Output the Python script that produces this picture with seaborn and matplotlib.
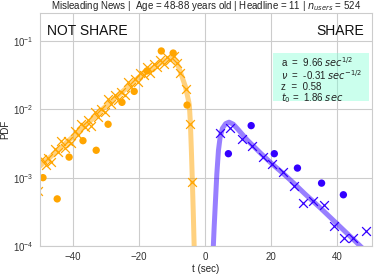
import numpy as np
import matplotlib
matplotlib.use("Agg")
import matplotlib.pyplot as plt
from matplotlib.patches import Rectangle
import seaborn as sns

# dados (log10 do PDF)
ns_curve_t = [-50, -45, -40, -35, -30, -25, -20, -16, -13, -11, -10, -9, -8, -7, -6, -5.5, -5, -4.8, -4.5, -4.2, -3.9, -3.6, -3.3]
ns_curve_log = [-2.83, -2.62, -2.40, -2.18, -1.95, -1.74, -1.53, -1.40, -1.31, -1.26, -1.25, -1.29, -1.39, -1.53, -1.67, -1.78, -1.89, -1.95, -2.2, -2.6, -3.05, -3.55, -4.1]

ns_cross_t = [-50.6, -49.4, -48.3, -47.5, -46.6, -45.4, -44.5, -43.6, -42.4, -41.5, -40.6, -39.4, -38.5, -37.6, -36.4,
              -35.5, -34.6, -33.4, -32.5, -31.6, -30.4, -29.5, -28.6, -27.4, -26.5, -25.6, -24.4,
              -23.5, -22.6, -21.4, -20.5, -19.6, -18.4, -17.5, -16.6, -15.4, -14.5, -13.6, -12.4,
              -11.5, -10.6, -9.4, -8.5, -7.6, -5.8, -4.5, -3.9]
ns_cross_log = [-3.20, -2.73, -2.81, -2.71, -2.77, -2.58, -2.63, -2.47, -2.57, -2.46, -2.50, -2.32, -2.37, -2.21, -2.26,
                -2.16, -2.25, -2.04, -2.11, -1.99, -2.04, -1.85, -1.92, -1.79, -1.86, -1.75, -1.80,
                -1.61, -1.68, -1.56, -1.61, -1.47, -1.50, -1.39, -1.47, -1.34, -1.39, -1.28, -1.34,
                -1.24, -1.28, -1.23, -1.32, -1.47, -1.70, -2.21, -3.07]

ns_dot_t = [-49.1, -44.8, -41.2, -37.0, -33.0, -29.4, -25.2, -21.5, -17.6, -13.3, -9.7, -5.5]
ns_dot_log = [-3.00, -3.31, -2.70, -2.46, -2.60, -2.22, -1.90, -1.74, -1.44, -1.15, -1.18, -1.94]

sh_curve_t = [2.4, 2.7, 3.0, 3.5, 4.0, 4.5, 5.2, 6.2, 7.2, 8.5, 10, 12.7, 16.7, 20, 23.6, 27, 30, 35, 40, 45, 48]
sh_curve_log = [-4.05, -3.72, -3.43, -2.95, -2.60, -2.41, -2.28, -2.21, -2.19, -2.22, -2.30, -2.45, -2.64, -2.79, -2.94, -3.09, -3.23, -3.45, -3.68, -3.91, -4.05]

sh_cross_t = [4.5, 7.6, 11.2, 14.2, 17.6, 20.3, 23.6, 27.0, 29.7, 32.7, 35.8, 39.1, 42.1, 44.8, 48.5]
sh_cross_log = [-2.35, -2.27, -2.43, -2.54, -2.70, -2.80, -2.92, -3.12, -3.37, -3.34, -3.40, -3.71, -3.88, -3.88, -3.78]

sh_dot_t = [7.0, 13.9, 20.9, 27.9, 35.2, 41.8]
sh_dot_log = [-2.65, -2.24, -2.65, -2.86, -3.08, -3.25]

cor_ns = '#ffa500'
cor_sh = '#3300ff'

sns.set_style("whitegrid")
plt.rcParams['font.family'] = ['Liberation Sans', 'DejaVu Sans']

fig = plt.figure(figsize=(3.74, 2.75), dpi=100)
ax = fig.add_axes([0.107, 0.105, 0.888, 0.846])

sns.lineplot(x=ns_curve_t, y=10 ** np.array(ns_curve_log), ax=ax, color=cor_ns, alpha=0.5, lw=3.6, sort=False)
sns.lineplot(x=sh_curve_t, y=10 ** np.array(sh_curve_log), ax=ax, color=cor_sh, alpha=0.5, lw=3.6, sort=False)

sns.scatterplot(x=ns_cross_t, y=10 ** np.array(ns_cross_log), ax=ax, marker='x', color=cor_ns, s=40, linewidth=0.9)
sns.scatterplot(x=ns_dot_t, y=10 ** np.array(ns_dot_log), ax=ax, marker='o', color=cor_ns, s=28, edgecolor='none')
sns.scatterplot(x=sh_cross_t, y=10 ** np.array(sh_cross_log), ax=ax, marker='x', color=cor_sh, s=40, linewidth=0.9)
sns.scatterplot(x=sh_dot_t, y=10 ** np.array(sh_dot_log), ax=ax, marker='o', color=cor_sh, s=28, edgecolor='none')

ax.set_yscale('log')
ax.set_xlim(-50, 50.5)
ax.set_ylim(1e-4, 0.25)
ax.set_xticks([-40, -20, 0, 20, 40])
ax.set_yticks([1e-4, 1e-3, 1e-2, 1e-1])
ax.minorticks_off()
ax.tick_params(labelsize=7, pad=1, colors='#333333')
ax.set_xlabel('t (sec)', fontsize=7, labelpad=1, color='#222222')
ax.set_ylabel('PDF', fontsize=7, labelpad=2, color='#222222')
ax.set_title('Misleading News |  Age = 48-88 years old | Headline = 11 | $n_{users}$ = 524',
             fontsize=7, pad=3, color='#222222')

ax.text(0.02, 0.925, 'NOT SHARE', transform=ax.transAxes, fontsize=10, va='center', ha='left', color='#111111')
ax.text(0.975, 0.925, 'SHARE', transform=ax.transAxes, fontsize=10, va='center', ha='right', color='#111111')

# caixa dos parametros
ax.add_patch(Rectangle((0.702, 0.624), 0.289, 0.206, transform=ax.transAxes,
                       facecolor='#7fffd4', alpha=0.4, edgecolor='none', zorder=3))
txt = ('a  =  9.66 $sec^{1/2}$\n'
       '$\\nu$  =  -0.31 $sec^{-1/2}$\n'
       'z  =  0.58\n'
       '$t_0$ =  1.86 $sec$')
ax.text(0.726, 0.82, txt, transform=ax.transAxes, fontsize=7, va='top', ha='left', color='#222222',
        linespacing=0.95, zorder=4)

fig.savefig('out.png', dpi=100)
